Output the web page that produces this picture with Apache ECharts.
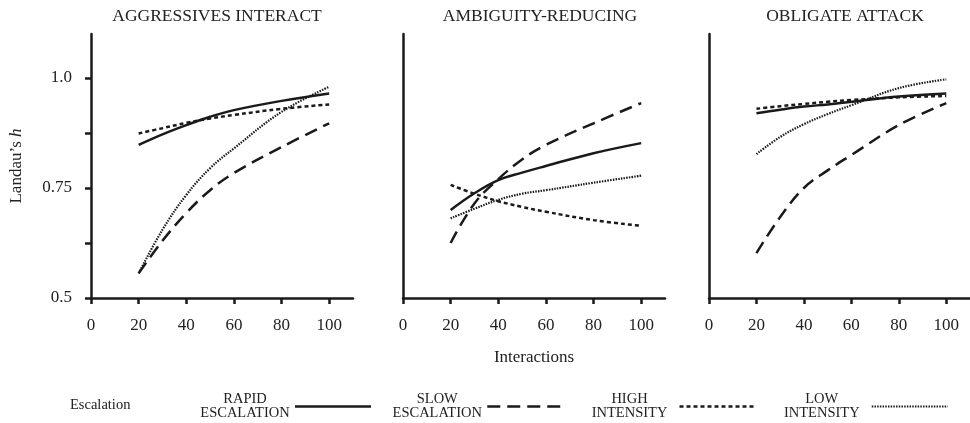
<!DOCTYPE html>
<html>
<head>
<meta charset="utf-8">
<script src="https://cdn.jsdelivr.net/npm/echarts@6/dist/echarts.min.js"></script>
<style>
  html, body { margin: 0; padding: 0; background: #fff; }
  #chart { width: 970px; height: 423px; }
</style>
</head>
<body>
<div id="chart"></div>
<script>
// interactions at which the curves are read
var interactions = [20, 30, 40, 50, 60, 80, 100];

var panelTitles = ["AGGRESSIVES INTERACT", "AMBIGUITY-REDUCING", "OBLIGATE ATTACK"];
var seriesNames = ["RAPID ESCALATION", "SLOW ESCALATION", "HIGH INTENSITY", "LOW INTENSITY"];

// Landau's h, one array per panel and condition
var aggressivesRapid = [0.848, 0.872, 0.893, 0.912, 0.927, 0.948, 0.965];
var aggressivesSlow  = [0.556, 0.630, 0.693, 0.745, 0.784, 0.843, 0.897];
var aggressivesHigh  = [0.874, 0.886, 0.898, 0.908, 0.916, 0.930, 0.940];
var aggressivesLow   = [0.556, 0.655, 0.734, 0.795, 0.840, 0.923, 0.980];

var ambiguityRapid = [0.700, 0.738, 0.768, 0.785, 0.800, 0.829, 0.852];
var ambiguitySlow  = [0.625, 0.715, 0.770, 0.815, 0.848, 0.897, 0.943];
var ambiguityHigh  = [0.757, 0.737, 0.720, 0.707, 0.696, 0.677, 0.664];
var ambiguityLow   = [0.681, 0.703, 0.723, 0.737, 0.745, 0.762, 0.778];

var obligateRapid = [0.920, 0.928, 0.935, 0.940, 0.946, 0.958, 0.965];
var obligateSlow  = [0.602, 0.684, 0.750, 0.790, 0.825, 0.893, 0.943];
var obligateHigh  = [0.930, 0.936, 0.941, 0.946, 0.950, 0.956, 0.959];
var obligateLow   = [0.827, 0.866, 0.895, 0.918, 0.938, 0.977, 0.997];

var xTicks = [0, 20, 40, 60, 80, 100];
var yTicks = [0.5, 0.625, 0.75, 0.875, 1.0];
var yLabels = [0.5, 0.75, 1.0];

var panels = [
  [aggressivesRapid, aggressivesSlow, aggressivesHigh, aggressivesLow],
  [ambiguityRapid, ambiguitySlow, ambiguityHigh, ambiguityLow],
  [obligateRapid, obligateSlow, obligateHigh, obligateLow]
];

var serif = '"Liberation Serif", "Times New Roman", serif';
var ink = "#1a1a1a";
var lineStyles = [
  { width: 2.5, type: "solid" },
  { width: 2.5, type: [13, 7] },
  { width: 2.5, type: [4, 3] },
  { width: 2.2, type: [1.5, 1.2] }
];
var gridLefts = [91, 403, 709];
var titleCenters = [212, 535, 840];

var grids = [], xAxes = [], yAxes = [], series = [], titles = [];

for (var p = 0; p < 3; p++) {
  grids.push({ left: gridLefts[p], top: 34, width: 262, height: 264 });
  titles.push({
    text: panelTitles[p],
    left: titleCenters[p],
    textAlign: "center",
    top: 2,
    textStyle: { fontFamily: serif, fontSize: 17.5, fontWeight: "normal", color: "#222" }
  });
  xAxes.push({
    gridIndex: p,
    type: "value",
    min: 0,
    max: 110,
    splitLine: { show: false },
    axisLine: { show: true, lineStyle: { color: ink, width: 2.5 } },
    axisTick: { show: true, length: 6, customValues: xTicks, lineStyle: { color: ink, width: 2.5 } },
    axisLabel: { customValues: xTicks, margin: 19, fontFamily: serif, fontSize: 17, color: "#222" },
    name: p === 1 ? "Interactions" : "",
    nameLocation: "middle",
    nameGap: 51,
    nameTextStyle: { fontFamily: serif, fontSize: 17, color: "#222" }
  });
  yAxes.push({
    gridIndex: p,
    type: "value",
    min: 0.5,
    max: 1.1,
    splitLine: { show: false },
    axisLine: { show: true, lineStyle: { color: ink, width: 2.5 } },
    axisTick: { show: p === 0, length: 6, customValues: yTicks, lineStyle: { color: ink, width: 2.5 } },
    axisLabel: {
      show: p === 0,
      customValues: yLabels,
      margin: 19,
      fontFamily: serif,
      fontSize: 17,
      color: "#222",
      formatter: function (v) { return v === 1 ? "1.0" : String(v); }
    },
    name: p === 0 ? "Landau\u2019s {i|h}" : "",
    nameLocation: "middle",
    nameRotate: 90,
    nameGap: 66,
    nameTextStyle: {
      fontFamily: serif, fontSize: 17, color: "#222",
      rich: { i: { fontFamily: serif, fontSize: 17, fontStyle: "italic", color: "#222" } }
    }
  });
  for (var s = 0; s < 4; s++) {
    var pts = [];
    for (var k = 0; k < interactions.length; k++) pts.push([interactions[k], panels[p][s][k]]);
    series.push({
      name: seriesNames[s],
      type: "line",
      xAxisIndex: p,
      yAxisIndex: p,
      data: pts,
      smooth: 0.4,
      symbol: "none",
      silent: true,
      itemStyle: { color: ink },
      lineStyle: { color: ink, width: lineStyles[s].width, type: lineStyles[s].type }
    });
  }
}

titles.push({
  text: "Escalation",
  left: 65,
  top: 393,
  textStyle: { fontFamily: serif, fontSize: 14.5, fontWeight: "normal", color: "#222" }
});

var chart = echarts.init(document.getElementById("chart"), null, { renderer: "canvas" });
chart.setOption({
  animation: false,
  backgroundColor: "#fff",
  title: titles,
  grid: grids,
  xAxis: xAxes,
  yAxis: yAxes,
  legend: {
    left: 195,
    top: 387,
    align: "right",
    itemWidth: 76,
    itemHeight: 14,
    itemGap: 20,
    selectedMode: false,
    itemStyle: { opacity: 0 },
    data: seriesNames.map(function (n, i) {
      return { name: n, lineStyle: { width: lineStyles[i].width } };
    }),
    formatter: function (n) { return "{t|" + n.replace(" ", "\n") + "}"; },
    textStyle: {
      rich: { t: { width: 90, align: "center", fontFamily: serif, fontSize: 14.5, lineHeight: 14, color: "#222" } }
    }
  },
  series: series
});
</script>
</body>
</html>
